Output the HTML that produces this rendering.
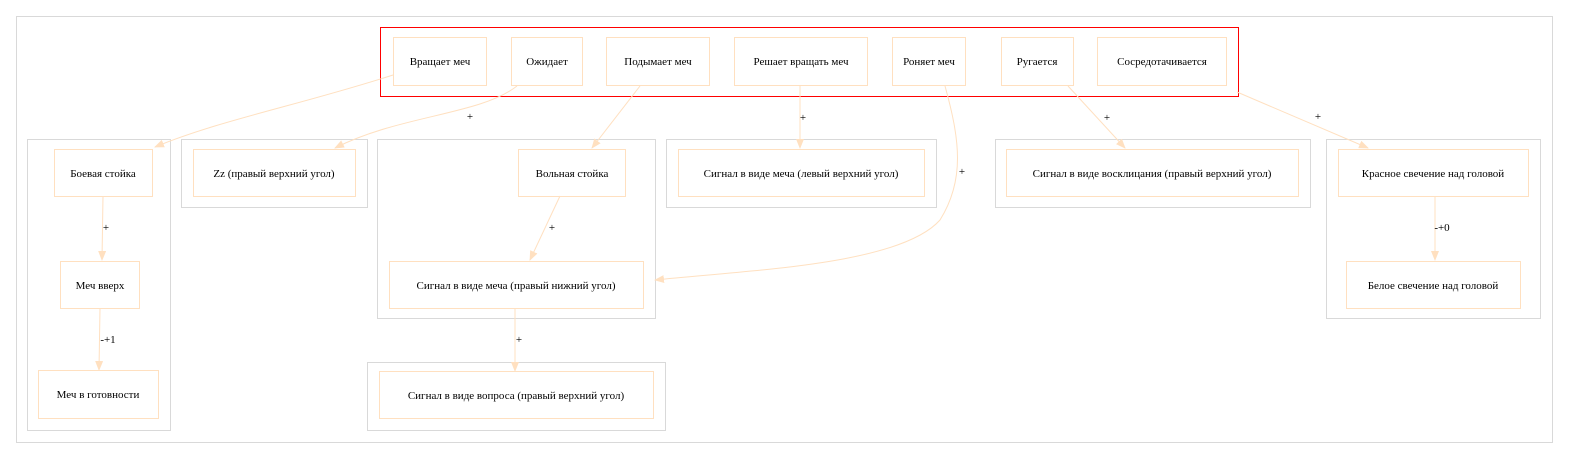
<!DOCTYPE html>
<html><head><meta charset="utf-8"><style>body{margin:0;background:#fff}svg{display:block}text{font-family:"Liberation Serif",serif;font-size:11px;fill:#000}</style></head><body>
<svg width="1576" height="459" viewBox="0 0 1576 459" xmlns="http://www.w3.org/2000/svg">
<defs><marker id="a" markerWidth="10" markerHeight="8" refX="9" refY="4" orient="auto" markerUnits="userSpaceOnUse"><path d="M0,0 L10,4 L0,8 Z" fill="#ffe0c0"/></marker></defs>
<g fill="none" stroke="#d9d9d9">
<rect x="16.5" y="16.5" width="1536" height="426"/>
<rect x="27.5" y="139.5" width="143" height="291"/>
<rect x="181.5" y="139.5" width="186" height="68"/>
<rect x="377.5" y="139.5" width="278" height="179"/>
<rect x="367.5" y="362.5" width="298" height="68"/>
<rect x="666.5" y="139.5" width="270" height="68"/>
<rect x="995.5" y="139.5" width="315" height="68"/>
<rect x="1326.5" y="139.5" width="214" height="179"/>
</g>
<rect x="380.5" y="27.5" width="858" height="69" fill="none" stroke="#f00"/>
<g fill="none" stroke="#ffe0c0">
<rect x="393.5" y="37.5" width="93" height="48"/>
<rect x="511.5" y="37.5" width="71" height="48"/>
<rect x="606.5" y="37.5" width="103" height="48"/>
<rect x="734.5" y="37.5" width="133" height="48"/>
<rect x="892.5" y="37.5" width="73" height="48"/>
<rect x="1001.5" y="37.5" width="72" height="48"/>
<rect x="1097.5" y="37.5" width="129" height="48"/>
<rect x="54.5" y="149.5" width="98" height="47"/>
<rect x="60.5" y="261.5" width="79" height="47"/>
<rect x="38.5" y="370.5" width="120" height="48"/>
<rect x="193.5" y="149.5" width="162" height="47"/>
<rect x="518.5" y="149.5" width="107" height="47"/>
<rect x="389.5" y="261.5" width="254" height="47"/>
<rect x="379.5" y="371.5" width="274" height="47"/>
<rect x="678.5" y="149.5" width="246" height="47"/>
<rect x="1006.5" y="149.5" width="292" height="47"/>
<rect x="1338.5" y="149.5" width="190" height="47"/>
<rect x="1346.5" y="261.5" width="174" height="47"/>
</g>
<g fill="none" stroke="#ffe0c0" marker-end="url(#a)">
<path d="M393,75 C300,105 220,120 155,147"/>
<path d="M517,86 C480,115 400,115 335,148"/>
<path d="M640,86 L592,148"/>
<path d="M800,86 L800,148"/>
<path d="M945,86 C960,140 965,180 940,220 C900,265 750,270 655,280"/>
<path d="M1068,86 L1125,148"/>
<path d="M1237,92 L1368,148"/>
<path d="M103,196 L102,260"/>
<path d="M100,308 L99,370"/>
<path d="M560,196 L530,260"/>
<path d="M515,308 L515,371"/>
<path d="M1435,196 L1435,260"/>
</g>
<g text-anchor="middle">
<text x="440" y="65">Вращает меч</text>
<text x="547" y="65">Ожидает</text>
<text x="658" y="65">Подымает меч</text>
<text x="801" y="65">Решает вращать меч</text>
<text x="929" y="65">Роняет меч</text>
<text x="1037" y="65">Ругается</text>
<text x="1162" y="65">Сосредотачивается</text>
<text x="103" y="177">Боевая стойка</text>
<text x="100" y="289">Меч вверх</text>
<text x="98" y="398">Меч в готовности</text>
<text x="274" y="177">Zz (правый верхний угол)</text>
<text x="572" y="177">Вольная стойка</text>
<text x="516" y="289">Сигнал в виде меча (правый нижний угол)</text>
<text x="516" y="399">Сигнал в виде вопроса (правый верхний угол)</text>
<text x="801" y="177">Сигнал в виде меча (левый верхний угол)</text>
<text x="1152" y="177">Сигнал в виде восклицания (правый верхний угол)</text>
<text x="1433" y="177">Красное свечение над головой</text>
<text x="1433" y="289">Белое свечение над головой</text>
<text x="470" y="120">+</text>
<text x="803" y="121">+</text>
<text x="962" y="175">+</text>
<text x="1107" y="121">+</text>
<text x="1318" y="120">+</text>
<text x="106" y="231">+</text>
<text x="108" y="343">-+1</text>
<text x="552" y="231">+</text>
<text x="519" y="343">+</text>
<text x="1442" y="231">-+0</text>
</g>
</svg>
</body></html>
